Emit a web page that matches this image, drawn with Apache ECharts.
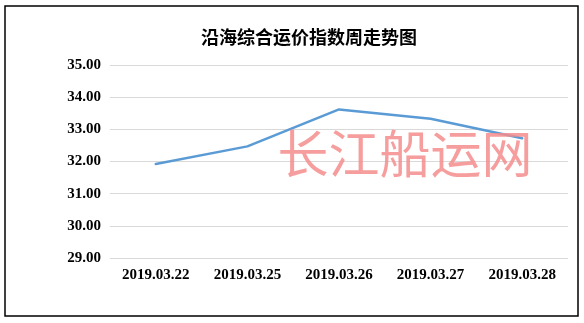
<!DOCTYPE html>
<html>
<head>
<meta charset="utf-8">
<script src="https://cdn.jsdelivr.net/npm/echarts@6/dist/echarts.min.js"></script>
<style>html,body{margin:0;padding:0;background:#fff;}#c{width:584px;height:323px;}</style>
</head>
<body>
<div id="c"></div>
<script>
const titleText = '沿海综合运价指数周走势图';
const categories = ['2019.03.22', '2019.03.25', '2019.03.26', '2019.03.27', '2019.03.28'];
const values = [31.92, 32.47, 33.62, 33.33, 32.72];
const yTicks = { min: 29, max: 35, interval: 1 };
const watermark = '长江船运网';

const chart = echarts.init(document.getElementById('c'), null, { renderer: 'canvas' });
chart.setOption({
  backgroundColor: '#ffffff',
  animation: false,
  title: {
    text: titleText,
    left: 304, top: 32.5,
    textAlign: 'center', textVerticalAlign: 'middle',
    textStyle: { fontFamily: 'Noto Sans CJK SC', fontWeight: 'bold', fontSize: 18, color: '#000' }
  },
  grid: { left: 110, right: 16, top: 65, bottom: 65 },
  xAxis: {
    type: 'category',
    data: categories,
    boundaryGap: true,
    axisLine: { show: false },
    axisTick: { show: false },
    axisLabel: { margin: 10, fontFamily: 'Liberation Serif', fontWeight: 'bold', fontSize: 15, color: '#000' }
  },
  yAxis: {
    type: 'value',
    min: yTicks.min, max: yTicks.max, interval: yTicks.interval,
    axisLine: { show: false },
    axisTick: { show: false },
    axisLabel: {
      margin: 9,
      formatter: v => v.toFixed(2),
      fontFamily: 'Liberation Serif', fontWeight: 'bold', fontSize: 15, color: '#000'
    },
    splitLine: { lineStyle: { color: '#d9d9d9', width: 1 } }
  },
  series: [{
    type: 'line',
    data: values,
    showSymbol: false,
    symbol: 'none',
    lineStyle: { color: '#5b9bd5', width: 2.5, cap: 'round' },
    z: 2
  }],
  graphic: [
    {
      type: 'rect',
      shape: { x: 5, y: 6, width: 573, height: 310 },
      style: { fill: 'none', stroke: '#000', lineWidth: 1.5 },
      z: 100
    },
    {
      type: 'text',
      x: 405, y: 154,
      style: {
        text: watermark,
        fontFamily: 'Noto Sans CJK SC',
        fontWeight: 'normal',
        fontSize: 51,
        fill: 'rgba(245,140,140,0.85)',
        align: 'center',
        verticalAlign: 'middle',
        shadowColor: 'rgba(0,0,0,0.25)',
        shadowBlur: 4,
        shadowOffsetX: 2,
        shadowOffsetY: 2
      },
      z: 50
    }
  ]
});
</script>
</body>
</html>
